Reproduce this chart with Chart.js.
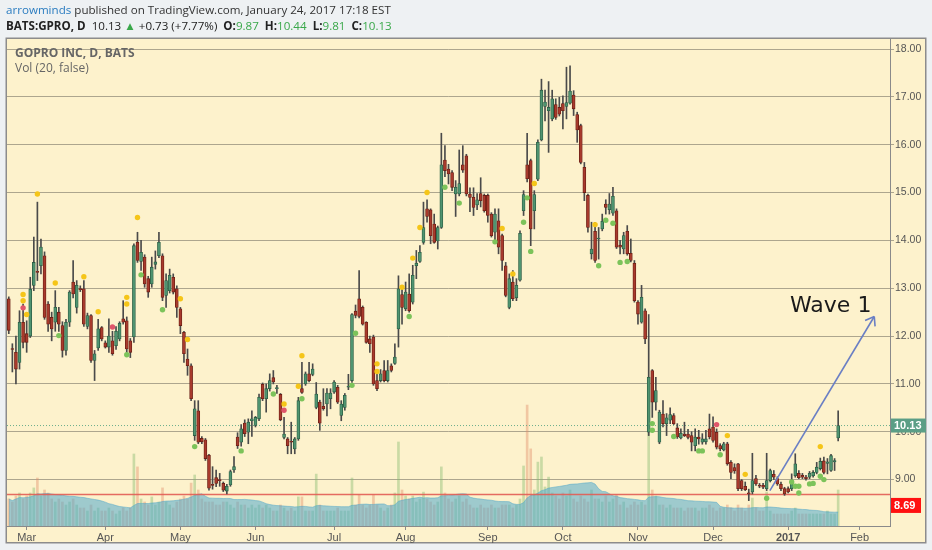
<!DOCTYPE html>
<html><head><meta charset="utf-8">
<script src="https://cdn.jsdelivr.net/npm/chart.js@4.4.1/dist/chart.umd.min.js"></script>
<style>
html,body{margin:0;padding:0;background:#eef1f3;}
#wrap{position:relative;width:932px;height:550px;overflow:hidden;}
canvas{position:absolute;left:0;top:0;}
.t{position:absolute;white-space:nowrap;font-family:"Open Sans",sans-serif;}
#h1{left:6px;top:2px;font-size:11.6px;color:#333;}
#h1 .u{color:#2a7cc0;}
#h2{left:6px;top:18px;font-size:11.6px;color:#222;}
.b{font-weight:bold}
.g{color:#3aa84a}
#lg1{left:15px;top:44px;font-size:12px;font-weight:bold;color:#666;}
#lg2{left:15px;top:59px;font-size:12px;color:#666;}
#wave{left:790px;top:292px;font-family:"DejaVu Sans",sans-serif;font-size:22px;color:#1a1a1a;}
</style></head>
<body>
<div id="wrap">
<canvas id="c" width="932" height="550"></canvas>
<div class="t" id="h1"><span class="u">arrowminds</span> published on TradingView.com, January 24, 2017 17:18 EST</div>
<div class="t" id="h2"><span class="b">BATS:GPRO, D</span>&nbsp; 10.13 <span class="g">▲</span> +0.73 (+7.77%)&nbsp; <span class="b">O:</span><span class="g">9.87</span>&nbsp; <span class="b">H:</span><span class="g">10.44</span>&nbsp; <span class="b">L:</span><span class="g">9.81</span>&nbsp; <span class="b">C:</span><span class="g">10.13</span></div>
<div class="t" id="lg1">GOPRO INC, D, BATS</div>
<div class="t" id="lg2">Vol (20, false)</div>
<div class="t" id="wave">Wave 1</div>
</div>
<script>
// month tick positions (trading-day index) and labels
const monthTickIndex = [5,27,48,69,91,111,134,155,176,197,218,238];
const monthTickLabels = ['Mar','Apr','May','Jun','Jul','Aug','Sep','Oct','Nov','Dec','2017','Feb'];
const priceTicks = [9,10,11,12,13,14,15,16,17,18];

const open = [
12.78,11.74,11.66,11.45,12.29, 12.05,12.0,13.06,13.35,13.47,
13.68,12.67,12.39,12.29,12.5, 12.22,11.7,12.29,13.13,12.6,
12.99,12.99,12.2,12.43,11.49, 11.75,12.18,11.86,11.77,11.9,
11.8,11.94,12.36,12.32,11.9, 11.98,13.96,13.56,13.65,13.2,
13.09,13.5,13.68,13.68,12.85, 12.95,13.23,12.99,12.57,12.08,
11.52,11.38,9.92,10.44,9.86, 9.83,9.51,8.89,9.04,8.99,
8.92,8.76,8.89,9.2,9.89, 9.78,10.18,9.99,10.23,10.13,
10.27,10.99,10.69,10.9,11.13, 10.9,10.78,9.88,9.85,9.79,
9.64,9.85,10.9,11.0,11.21, 11.2,10.51,10.62,10.53,10.58,
10.69,10.83,10.93,10.34,10.51, 10.93,11.07,12.52,12.78,12.6,
12.29,11.94,11.98,11.07,11.07, 11.28,11.07,11.38,11.43,12.15,
12.87,12.57,12.88,12.71,13.47, 13.56,13.96,14.66,14.64,14.34,
13.99,14.27,15.68,15.49,15.42, 14.97,14.97,15.58,15.77,14.97,
14.9,14.74,14.98,14.94,14.94, 14.55,14.17,14.41,14.1,13.47,
12.6,13.13,12.8,13.17,14.62, 15.58,15.67,14.62,15.28,16.1,
16.8,16.71,16.54,16.84,16.78, 16.86,16.8,16.87,17.04,16.63,
16.4,15.53,14.94,13.72,14.19, 14.03,14.24,14.76,14.64,14.57,
14.62,13.9,13.82,14.19,13.73, 13.52,12.71,12.29,12.53,9.99,
11.28,10.62,9.78,10.37,10.17, 10.24,10.34,10.08,9.87,9.95,
9.95,9.92,9.71,9.89,9.78, 9.79,10.06,10.1,9.99,9.71,
9.62,9.75,9.36,9.25,9.33, 8.98,8.86,8.71,8.74,9.02,
8.87,8.88,8.81,8.98,9.11, 9.02,8.9,8.81,8.81,8.81,
9.08,9.13,9.09,9.05,9.05, 9.08,9.15,9.23,9.39,9.34,
9.19,9.37,9.87];

const high = [
12.82,11.84,12.0,12.53,12.67, 12.32,13.23,14.07,14.8,14.03,
13.76,12.72,12.5,12.95,12.6, 12.3,12.35,12.95,13.58,13.16,
13.05,13.16,12.48,12.45,11.7, 12.35,12.2,11.9,12.36,12.1,
12.2,12.3,12.74,12.4,11.95, 13.93,14.17,14.0,13.7,13.25,
13.65,13.78,14.17,13.72,13.3, 13.4,13.3,13.05,12.6,12.1,
11.73,11.42,10.65,10.65,9.9, 9.86,9.53,9.27,9.2,9.13,
8.95,8.9,9.2,9.48,9.98, 10.15,10.25,10.27,10.44,10.32,
10.79,11.02,11.0,11.21,11.28, 10.97,10.8,10.3,9.88,10.2,
9.88,10.72,11.45,11.25,11.45, 11.42,11.03,10.66,10.9,10.9,
10.9,11.07,10.97,10.65,10.8, 11.2,12.47,12.65,13.37,12.63,
12.3,12.0,12.02,11.28,11.3, 11.49,11.49,11.42,11.84,13.26,
13.02,13.13,13.3,13.48,13.79, 13.89,14.8,14.85,14.66,14.55,
14.3,16.24,15.98,15.59,15.46, 15.25,15.89,15.98,15.8,15.1,
15.1,14.98,15.31,14.97,14.97, 14.58,14.66,14.66,14.13,13.54,
13.3,13.37,13.2,14.2,15.04, 16.24,15.7,15.04,16.1,17.37,
17.14,17.32,17.14,16.96,16.99, 17.02,17.62,17.65,17.13,16.68,
16.43,15.63,14.97,14.38,14.38, 14.27,14.55,14.85,14.98,15.11,
14.66,14.0,14.17,14.31,14.03, 13.58,12.74,13.06,12.57,12.45,
11.3,11.14,10.45,10.65,10.38, 10.5,10.38,10.17,10.06,10.2,
10.05,10.0,10.06,10.03,9.96, 10.03,10.37,10.31,10.06,9.75,
9.78,9.78,9.4,9.33,9.34, 9.0,8.95,8.8,9.55,9.09,
8.92,8.92,9.55,9.22,9.19, 9.06,8.95,8.84,8.85,9.12,
9.54,9.19,9.13,9.09,9.17, 9.19,9.36,9.45,9.47,9.44,
9.53,9.44,10.44];

const low = [
12.05,11.25,11.0,11.31,11.75, 11.66,11.97,12.95,13.16,13.3,
12.35,12.1,11.9,12.1,12.1, 11.56,11.6,12.2,12.8,12.48,
12.93,12.2,12.15,11.45,11.07, 11.7,11.9,11.75,11.66,11.6,
11.72,11.9,12.25,11.63,11.55, 11.87,13.54,13.37,13.02,12.81,
13.02,13.4,13.64,12.74,12.6, 12.9,12.88,12.39,12.05,11.45,
11.18,10.65,9.82,9.75,9.75, 9.4,8.78,8.8,8.85,8.86,
8.75,8.7,8.86,9.15,9.65, 9.7,9.9,9.75,9.9,10.1,
10.23,10.65,10.41,10.85,11.0, 10.8,10.23,9.85,9.54,9.54,
9.54,9.82,10.8,10.97,11.04, 11.17,10.48,10.03,10.45,10.33,
10.48,10.8,10.59,10.23,10.45, 10.88,11.03,12.38,12.38,12.23,
11.85,11.66,10.97,10.86,11.04, 11.04,11.04,11.25,11.41,11.77,
12.25,12.53,12.5,12.67,13.2, 13.54,13.92,14.38,13.93,13.94,
13.82,14.25,15.33,15.18,15.04, 14.5,14.93,15.42,14.93,14.6,
14.52,14.64,14.7,14.59,14.38, 14.07,13.99,13.72,13.37,12.82,
12.57,12.74,12.74,13.15,14.52, 15.22,13.89,14.24,15.25,16.08,
16.5,15.84,16.5,16.53,16.6, 16.33,16.54,16.85,16.61,16.05,
15.6,14.83,14.17,13.61,13.54, 13.61,14.2,14.55,14.55,14.52,
13.83,13.72,13.72,13.69,13.55, 12.71,12.25,12.27,11.84,9.92,
10.3,10.45,9.75,10.1,9.92, 10.17,10.15,9.86,9.85,9.9,
9.85,9.6,9.6,9.74,9.74, 9.74,9.85,9.78,9.64,9.6,
9.6,9.3,9.02,9.13,8.77, 8.77,8.77,8.56,8.7,8.88,
8.83,8.81,8.77,8.95,9.0, 8.88,8.77,8.67,8.72,8.77,
9.05,9.02,9.02,8.99,9.02, 9.05,9.12,9.2,9.12,9.12,
9.17,9.19,9.81];

const close = [
12.12,11.72,11.31,12.29,11.87, 11.87,12.98,13.54,13.33,13.86,
12.39,12.25,12.15,12.6,12.25, 11.7,12.29,12.92,12.88,13.06,
12.97,12.25,12.43,11.49,11.63, 12.15,11.94,11.77,12.0,11.63,
12.1,12.27,12.29,11.73,11.66, 13.89,13.58,13.75,13.09,12.92,
13.44,13.55,13.96,12.81,13.16, 13.27,12.92,12.6,12.22,11.63,
11.38,10.69,10.48,9.78,9.79, 9.44,8.82,8.88,8.92,8.98,
8.78,8.86,9.17,9.27,9.71, 10.06,9.96,10.2,10.27,10.3,
10.72,10.69,10.9,11.07,11.04, 10.9,10.25,9.95,9.71,9.78,
9.85,10.65,10.82,11.21,11.07, 11.31,10.79,10.18,10.48,10.81,
10.81,11.04,10.62,10.58,10.76, 10.95,12.45,12.43,12.41,12.25,
11.87,11.84,11.0,10.9,11.21, 11.07,11.28,11.28,11.56,12.99,
12.6,12.92,12.53,13.27,13.52, 13.75,14.27,14.5,14.1,13.96,
14.27,15.58,15.46,15.39,15.11, 15.11,15.19,15.47,14.97,14.9,
14.69,14.85,14.83,14.62,14.52, 14.1,14.55,13.86,13.58,12.85,
13.2,12.78,13.06,14.15,14.96, 15.29,14.24,14.96,16.05,17.14,
16.89,16.78,16.96,16.57,16.64, 16.71,16.88,17.12,16.75,16.31,
15.63,15.0,14.27,13.82,13.58, 14.03,14.4,14.69,14.76,14.92,
13.86,13.86,14.1,13.72,13.58, 12.74,12.46,12.81,11.94,11.14,
10.62,10.86,10.41,10.17,10.29, 10.36,10.17,9.89,9.97,9.92,
9.88,9.78,9.89,9.85,9.85, 9.85,9.89,9.82,9.68,9.64,
9.75,9.33,9.15,9.18,8.81, 8.81,8.79,8.7,8.98,8.91,
8.86,8.84,8.98,9.19,9.05, 8.91,8.81,8.7,8.74,8.98,
9.33,9.04,9.05,9.02,9.13, 9.15,9.26,9.38,9.15,9.37,
9.5,9.40,10.13];

// volume, millions of shares
const volume = [
9,8,10,11,9, 10,11,12.7,16,10, 12,11,9,8,9, 8,7,8,9,7,
6,6,5,7,5, 6,5,5,6,5, 4,5,6,5,6,
24,19.7,9,8,7, 9.7,7,8,12.7,8, 7,6,8,9,10, 9,14.3,17,12,
9,8,8,8,7,7,8,8,7,6,
8,7,7,6,7,6,
7,6,7,6,5, 5,7,6,5,6, 5,9.7,9.7,5,5, 5,17.3,7,5,5, 5,5,6,5,5, 5,
16,7,10.3,7,6, 7,10.3,7,6,5, 6,7,11,
28,12,10,9,10, 8,9,11.3,9,8, 7,8,
19.7,11,9,8,9,10,8,9,
7,6,6,7,6,6,7,6, 6,7,7,7,
6,7,9,
20,40.3,25.7,12,21.3,23,13,16.3,
11,10,9,11,10,12,9,8,10,9,8,
12,9,9,8,10,8,9,10.3,
7,8,6,7,8,7,8,7,
32.7,12,10,
7,7,6,7,6,6,6,5,6,
6,6,5,6,6,7,6,5,6,
6,7,6,5,7,6,5,7,
9.3,6,5,5,11.3,
5,4,4,4,4,4,5,6,
4,4,4,4,4,4,4,4,5,4,4,
12];
const volumeMAPeriod = 20;

// indicator dots [index, price]
const yellowDots = [[8,14.97],[4,12.87],[4,12.74],[5,12.45],[13,13.11],[21,13.24],[25,12.51],[33,12.81],[33,12.67],[36,14.48],[48,12.78],[50,11.93],
  [77,10.58],[81,10.95],[82,11.59],[103,11.42],[103,11.26],[110,13.02],[113,13.63],[115,14.27],[117,15.0],
  [138,14.25],[141,13.3],[147,15.19],[164,14.33],[201,9.92],[206,9.11],[227,9.69]];
const greenDots = [[14,12.01],[33,11.61],[37,13.28],[43,12.55],[52,9.69],[65,9.6],[74,10.79],[82,10.69],[96,10.97],[97,12.06],
  [112,12.41],[122,15.11],[126,14.78],[136,13.97],[144,14.38],[145,14.89],[146,13.77],[165,13.47],[167,14.42],[169,14.36],
  [171,13.54],[173,13.56],[180,10.17],[180,10.03],[186,9.9],[193,9.6],[194,9.6],[199,9.52],[212,8.61],[219,8.95],[220,8.86],
  [221,8.72],[221,8.86],[224,8.91],[225,8.92],[227,9.07],[228,9.0]];
const redDots = [[4,12.59],[29,12.19],[77,10.45],[198,10.15]];

const lastPrice = 10.13;
const supportLine = 8.69;
const waveArrow = [[212.9,8.77],[242.1,12.41]];

const X_MIN = -0.5, X_MAX = 246.5;
const idx = close.map((_, i) => i);
const up = idx.map(i => close[i] >= open[i]);
const volMA = idx.map(i => {
  const s = Math.max(0, i - volumeMAPeriod + 1);
  const w = volume.slice(s, i + 1);
  return w.reduce((a, b) => a + b, 0) / w.length;
});

const FONT = '"Liberation Sans", Arial, sans-serif';

const bgPlugin = {
  id: 'bg',
  beforeDraw(chart) {
    const ctx = chart.ctx;
    ctx.save();
    ctx.fillStyle = '#eef1f3';
    ctx.fillRect(0, 0, chart.width, chart.height);
    ctx.fillStyle = '#fdf2cc';
    ctx.fillRect(6, 38, 920, 505);
    ctx.strokeStyle = '#8c8c8c';
    ctx.lineWidth = 1.5;
    ctx.strokeRect(6.25, 38.25, 919.5, 504.5);
    ctx.restore();
  }
};

const overlayPlugin = {
  id: 'overlay',
  afterDraw(chart) {
    const ctx = chart.ctx;
    const ys = chart.scales.y;
    const right = chart.chartArea.right;
    ctx.save();
    const meta = chart.getDatasetMeta(chart.data.datasets.findIndex(d => d.label === 'wave'));
    const p0 = meta.data[0], p1 = meta.data[1];
    const ang = Math.atan2(p1.y - p0.y, p1.x - p0.x) + Math.PI;
    ctx.strokeStyle = '#6a7fc4';
    ctx.lineWidth = 1.6;
    ctx.beginPath();
    [ -0.62, 0.62 ].forEach(d => {
      ctx.moveTo(p1.x, p1.y);
      ctx.lineTo(p1.x + 10 * Math.cos(ang + d), p1.y + 10 * Math.sin(ang + d));
    });
    ctx.stroke();
    ctx.font = 'bold 11px ' + FONT;
    ctx.textBaseline = 'middle';
    ctx.textAlign = 'left';
    let y = ys.getPixelForValue(lastPrice);
    ctx.fillStyle = '#5b9e86';
    ctx.fillRect(right + 1, y - 7, 35, 14);
    ctx.fillStyle = '#ffffff';
    ctx.fillText(lastPrice.toFixed(2), right + 4, y + 0.5);
    y = ys.getPixelForValue(supportLine) + 11;
    ctx.fillStyle = '#ff1010';
    ctx.fillRect(right + 1, y - 7.5, 30, 15);
    ctx.fillStyle = '#ffffff';
    ctx.fillText(supportLine.toFixed(2), right + 4, y + 0.5);
    ctx.restore();
  }
};

const toPts = arr => arr.map(([x, y]) => ({x, y}));

new Chart(document.getElementById('c'), {
  type: 'bar',
  data: {
    datasets: [
      { label: 'wave', type: 'line', data: toPts(waveArrow), borderColor: '#6a7fc4', borderWidth: 1.6,
        pointRadius: 0, fill: false, order: 1, yAxisID: 'y' },
      { label: 'yellow', type: 'line', data: toPts(yellowDots), showLine: false, pointRadius: 2.7,
        pointBackgroundColor: '#f5c518', pointBorderWidth: 0, order: 2, yAxisID: 'y' },
      { label: 'green', type: 'line', data: toPts(greenDots), showLine: false, pointRadius: 2.7,
        pointBackgroundColor: '#7cc35a', pointBorderWidth: 0, order: 2, yAxisID: 'y' },
      { label: 'red', type: 'line', data: toPts(redDots), showLine: false, pointRadius: 2.7,
        pointBackgroundColor: '#e0566a', pointBorderWidth: 0, order: 2, yAxisID: 'y' },
      { label: 'body', type: 'bar', data: idx.map(i => ({x: i, y: [open[i], close[i]]})),
        backgroundColor: idx.map(i => up[i] ? '#4f9470' : '#a83a2c'),
        borderColor: idx.map(i => up[i] ? '#2c5e45' : '#6a1e15'),
        borderWidth: 0.8, borderSkipped: false, barThickness: 3, minBarLength: 1, grouped: false, order: 4, yAxisID: 'y' },
      { label: 'wick', type: 'bar', data: idx.map(i => ({x: i, y: [low[i], high[i]]})),
        backgroundColor: '#4a4a4a', barThickness: 1, grouped: false, order: 5, yAxisID: 'y' },
      { label: 'last', type: 'line', data: [{x: X_MIN, y: lastPrice}, {x: X_MAX, y: lastPrice}],
        borderColor: '#6cae8c', borderWidth: 1, borderDash: [1, 2], pointRadius: 0, order: 8, yAxisID: 'y' },
      { label: 'support', type: 'line', data: [{x: X_MIN, y: supportLine}, {x: X_MAX, y: supportLine}],
        borderColor: 'rgba(226,92,84,0.9)', borderWidth: 1.6, pointRadius: 0, order: 7, yAxisID: 'y' },
      { label: 'volma', type: 'line', yAxisID: 'yv', data: idx.map(i => ({x: i, y: volMA[i]})),
        fill: 'origin', backgroundColor: 'rgba(80,170,205,0.55)', borderColor: 'rgba(80,165,200,0.5)',
        borderWidth: 1, pointRadius: 0, tension: 0, order: 18 },
      { label: 'vol', type: 'bar', yAxisID: 'yv', data: idx.map(i => ({x: i, y: volume[i]})),
        backgroundColor: idx.map(i => up[i] ? 'rgba(130,185,110,0.42)' : 'rgba(225,140,105,0.42)'),
        barThickness: 2, grouped: false, order: 19 }
    ]
  },
  options: {
    responsive: false,
    animation: false,
    events: [],
    layout: { padding: { left: 7, top: 39, right: 6, bottom: 7 } },
    plugins: { legend: { display: false }, tooltip: { enabled: false } },
    scales: {
      x: {
        type: 'linear', min: X_MIN, max: X_MAX, offset: false,
        grid: { drawOnChartArea: false, drawTicks: true, tickLength: 4, color: '#8a8a8a', offset: false },
        border: { color: '#8a8a8a', width: 1 },
        afterBuildTicks: s => { s.ticks = monthTickIndex.map(v => ({value: v})); },
        afterFit: s => { s.height = 17; },
        ticks: {
          autoSkip: false, maxRotation: 0, padding: 1, color: '#555',
          font: ctx => ({ family: FONT, size: 11, weight: (ctx.tick && ctx.tick.value === 218) ? 'bold' : 'normal' }),
          callback: v => { const k = monthTickIndex.indexOf(v); return k >= 0 ? monthTickLabels[k] : ''; }
        }
      },
      y: {
        type: 'linear', position: 'right', min: 8.03, max: 18.21, beginAtZero: false,
        grid: { color: 'rgba(120,115,100,0.6)', lineWidth: 1, drawTicks: true, tickLength: 4 },
        border: { color: '#8a8a8a', width: 1 },
        afterBuildTicks: s => { s.ticks = priceTicks.map(v => ({value: v})); },
        afterFit: s => { s.width = 36; },
        ticks: { padding: 1, color: '#555', font: { family: FONT, size: 10.5 }, callback: v => Number(v).toFixed(2) }
      },
      yv: { type: 'linear', display: false, min: 0, max: 162.3, beginAtZero: true }
    }
  },
  plugins: [bgPlugin, overlayPlugin]
});
</script>
</body></html>
